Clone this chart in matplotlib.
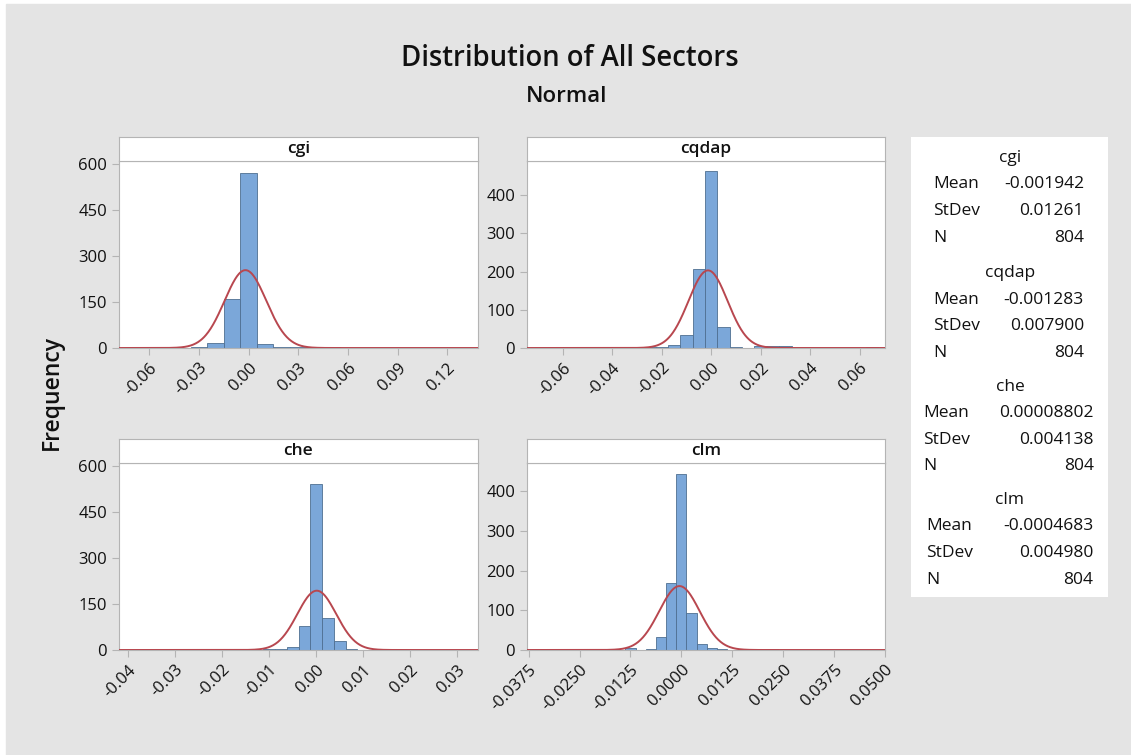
import numpy as np
import matplotlib
matplotlib.use("Agg")
import matplotlib.pyplot as plt

plt.rcParams['font.family'] = ['Open Sans', 'DejaVu Sans']

# Histogram counts, bins are centred on the grid
sectors = ["cgi", "cqdap", "che", "clm"]
bin_width = [0.01, 0.005, 0.0025, 0.0025]
first_center = [-0.07, -0.07, -0.04, -0.0375]

cgi_counts = [1, 0, 1, 1, 2, 16, 160, 573, 14, 2, 4, 1, 4, 1, 0, 1, 1, 0, 0, 0, 1]
cqdap_counts = [1, 0, 0, 0, 0, 0, 0, 1, 2, 2, 3, 8, 33, 207, 462, 56, 2, 1,
                4, 4, 4, 1, 1, 1, 0, 0, 0, 2]
che_counts = [1, 0, 0, 0, 0, 0, 0, 0, 0, 2, 0, 0, 3, 3, 9, 79, 541, 103, 30,
              2, 1, 1, 1, 0, 0, 0, 0, 0, 0, 0]
clm_counts = [0, 1, 0, 0, 0, 0, 0, 0, 3, 1, 4, 1, 3, 34, 170, 444, 94, 14,
              4, 2, 1, 1, 0, 0, 3, 0, 0, 0, 0, 0, 0, 0, 0, 0, 1, 0]
counts = [cgi_counts, cqdap_counts, che_counts, clm_counts]

# Summary statistics shown in the side panel
means = [-0.001942, -0.001283, 0.00008802, -0.0004683]
stdevs = [0.01261, 0.007900, 0.004138, 0.004980]
n_obs = [804, 804, 804, 804]
mean_txt = ["-0.001942", "-0.001283", "0.00008802", "-0.0004683"]
stdev_txt = ["0.01261", "0.007900", "0.004138", "0.004980"]

# Axis ticks
xticks = [[-0.06, -0.03, 0.0, 0.03, 0.06, 0.09, 0.12],
          [-0.06, -0.04, -0.02, 0.0, 0.02, 0.04, 0.06],
          [-0.04, -0.03, -0.02, -0.01, 0.0, 0.01, 0.02, 0.03],
          [-0.0375, -0.025, -0.0125, 0.0, 0.0125, 0.025, 0.0375, 0.05]]
xticklabels = [["-0.06", "-0.03", "0.00", "0.03", "0.06", "0.09", "0.12"],
               ["-0.06", "-0.04", "-0.02", "0.00", "0.02", "0.04", "0.06"],
               ["-0.04", "-0.03", "-0.02", "-0.01", "0.00", "0.01", "0.02", "0.03"],
               ["-0.0375", "-0.0250", "-0.0125", "0.0000", "0.0125", "0.0250",
                "0.0375", "0.0500"]]
yticks = [[0, 150, 300, 450, 600], [0, 100, 200, 300, 400],
          [0, 150, 300, 450, 600], [0, 100, 200, 300, 400]]

# layout in pixels: (left, top, right, bottom) of plotting area
W, H = 1131, 755
boxes = [(119, 161, 478, 348), (527, 161, 885, 348),
         (119, 463, 478, 650), (527, 463, 885, 650)]
xlims = [(-0.0783, 0.1385), (-0.0745, 0.0703), (-0.0420, 0.0344), (-0.0379, 0.0500)]
ylims = [611, 489, 611, 471]
strip_h = 24

BG = "#e4e4e4"
BAR = "#7ba7d9"
BAR_EDGE = "#4f6f91"
CURVE = "#b8474f"
FRAME = "#b4b4b4"
TXT = "#111111"


def frac(left, top, right, bottom):
    return [left / W, 1 - bottom / H, (right - left) / W, (bottom - top) / H]


fig = plt.figure(figsize=(W / 100, H / 100), dpi=100)
fig.patch.set_facecolor("white")
# gray chart area with thin white margin
fig.add_artist(plt.Rectangle((6 / W, 0), 1 - 6 / W, 1 - 4 / H,
                             transform=fig.transFigure, color=BG, zorder=0))

for i, name in enumerate(sectors):
    l, t, r, b = boxes[i]
    ax = fig.add_axes(frac(l, t, r, b))
    centers = first_center[i] + bin_width[i] * np.arange(len(counts[i]))
    ax.bar(centers, counts[i], width=bin_width[i], color=BAR,
           edgecolor=BAR_EDGE, linewidth=0.6, zorder=2)
    x = np.linspace(xlims[i][0], xlims[i][1], 600)
    pdf = np.exp(-0.5 * ((x - means[i]) / stdevs[i]) ** 2) / (stdevs[i] * np.sqrt(2 * np.pi))
    y = n_obs[i] * bin_width[i] * pdf
    ax.plot(x, y, color=CURVE, linewidth=1.4, zorder=3)
    ax.set_xlim(*xlims[i])
    ax.set_ylim(0, ylims[i])
    ax.set_xticks(xticks[i])
    ax.set_xticklabels(xticklabels[i], rotation=45, ha="right",
                       rotation_mode="anchor", fontsize=12)
    ax.set_yticks(yticks[i])
    ax.set_yticklabels([str(v) for v in yticks[i]], fontsize=12)
    ax.tick_params(colors=FRAME, labelcolor=TXT, length=5, width=0.8)
    for s in ax.spines.values():
        s.set_color(FRAME)
        s.set_linewidth(0.8)

    sax = fig.add_axes(frac(l, t - strip_h, r, t))
    sax.set_xticks([])
    sax.set_yticks([])
    for s in sax.spines.values():
        s.set_color(FRAME)
        s.set_linewidth(0.8)
    sax.text(0.5, 0.5, name, ha="center", va="center", fontsize=12.5,
             fontweight="semibold", color=TXT, transform=sax.transAxes)

# titles
fig.text(570 / W, 1 - 59 / H, "Distribution of All Sectors", ha="center",
         va="center", fontsize=19.8, fontweight="semibold", color=TXT)
fig.text(567 / W, 1 - 96 / H, "Normal", ha="center", va="center",
         fontsize=16, fontweight="semibold", color=TXT)
fig.text(52 / W, 1 - 393 / H, "Frequency", ha="center", va="center",
         rotation=90, fontsize=16.5, fontweight="semibold", color=TXT)

# stats panel
fig.add_artist(plt.Rectangle((911 / W, 1 - 597 / H), 197 / W, 460 / H,
                             transform=fig.transFigure, facecolor="white",
                             edgecolor="none", zorder=1))
section_top = [158, 273, 387, 500]
label_x = [933, 933, 923, 926]
value_x = [1084, 1084, 1094, 1093]
row_step = 26.5
for i, name in enumerate(sectors):
    yt = section_top[i]
    fig.text(1010 / W, 1 - yt / H, name, ha="center", va="center",
             fontsize=12.5, color=TXT)
    rows = [("Mean", mean_txt[i]), ("StDev", stdev_txt[i]), ("N", str(n_obs[i]))]
    for k, (lab, val) in enumerate(rows):
        yy = 1 - (yt + row_step * (k + 1)) / H
        fig.text(label_x[i] / W, yy, lab, ha="left", va="center",
                 fontsize=12.5, color=TXT)
        fig.text(value_x[i] / W, yy, val, ha="right", va="center",
                 fontsize=12.5, color=TXT)

fig.savefig("out.png", dpi=100, facecolor=fig.get_facecolor())
